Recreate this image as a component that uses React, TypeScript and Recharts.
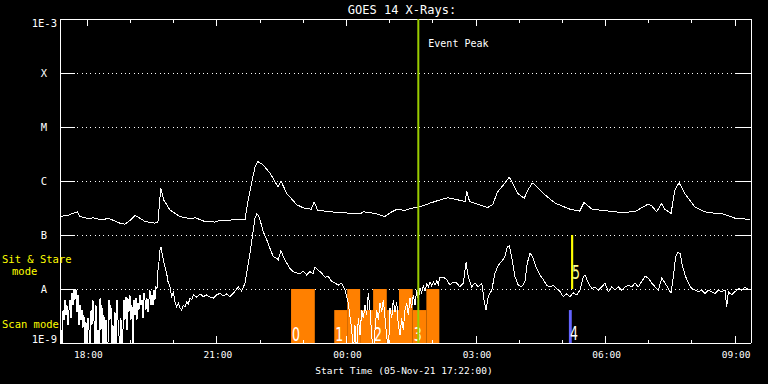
import React from 'react';
import { LineChart, Line, XAxis, YAxis, CartesianGrid, ReferenceArea, ReferenceLine } from 'recharts';

// ---- data (time = minutes after 05-Nov-21 17:22, flux = log10 W/m^2) ----
const START_MIN = 17 * 60 + 22;
const hourTicks = [38, 98, 158, 218, 278, 338, 398, 458, 518, 578, 638, 698, 758, 818, 878, 938];
const levelTicks = [-9, -8, -7, -6, -5, -4, -3];
const levelNames = ['1E-9', 'A', 'B', 'C', 'M', 'X', '1E-3'];

const longTimes = [
  0, 12, 24, 28, 40, 46, 54, 69, 83, 90,
  98, 104, 110, 118, 132, 136, 140, 144, 153, 167,
  181, 188, 201, 215, 222, 243, 257, 261, 267, 271,
  275, 282, 292, 303, 307, 315, 329, 340, 349, 353,
  358, 375, 396, 417, 421, 438, 451, 461, 469, 479,
  486, 500, 514, 528, 539, 553, 563, 565, 569, 583,
  594, 601, 608, 618, 624, 629, 636, 645, 650, 656,
  660, 674, 688, 708, 722, 728, 739, 757, 778, 799,
  810, 817, 822, 829, 836, 840, 849, 854, 860, 868,
  882, 896, 910, 919, 938, 958,
];
const longFlux = [
  -6.66, -6.63, -6.57, -6.66, -6.70, -6.68, -6.71, -6.70, -6.78, -6.80,
  -6.72, -6.64, -6.68, -6.75, -6.78, -6.76, -6.13, -6.35, -6.54, -6.66,
  -6.70, -6.68, -6.75, -6.76, -6.73, -6.72, -6.72, -6.38, -5.98, -5.74,
  -5.64, -5.70, -5.86, -6.11, -6.00, -6.23, -6.44, -6.51, -6.52, -6.39,
  -6.54, -6.57, -6.59, -6.61, -6.57, -6.60, -6.66, -6.57, -6.52, -6.55,
  -6.51, -6.48, -6.41, -6.35, -6.31, -6.35, -6.38, -6.18, -6.38, -6.44,
  -6.49, -6.44, -6.20, -6.04, -5.93, -6.04, -6.23, -6.32, -6.17, -6.04,
  -6.07, -6.26, -6.41, -6.52, -6.56, -6.40, -6.52, -6.55, -6.58, -6.57,
  -6.48, -6.43, -6.46, -6.57, -6.41, -6.52, -6.60, -6.17, -6.03, -6.23,
  -6.48, -6.57, -6.60, -6.60, -6.69, -6.71,
];

const shortTimes = [
  0, 1.4, 2.8, 4.2, 5.6, 6.9, 8.3, 9.7, 11.1, 12.5,
  13.9, 15.3, 16.7, 18.1, 19.4, 20.8, 22.2, 23.6, 25.0, 26.4,
  27.8, 29.2, 30.6, 31.9, 33.3, 34.7, 36.1, 37.5, 38.9, 40.3,
  41.7, 43.1, 44.4, 45.8, 47.2, 48.6, 50.0, 51.4, 52.8, 54.2,
  55.6, 56.9, 58.3, 59.7, 61.1, 62.5, 63.9, 65.3, 66.7, 68.1,
  69.4, 70.8, 72.2, 73.6, 75.0, 76.4, 77.8, 79.2, 80.6, 81.9,
  83.3, 84.7, 86.1, 87.5, 88.9, 90.3, 91.7, 93.1, 94.4, 95.8,
  97.2, 98.6, 100.0, 101.4, 102.8, 104.2, 105.6, 106.9, 108.3, 109.7,
  111.1, 112.5, 113.9, 115.3, 116.7, 118.1, 119.4, 120.8, 122.2, 123.6,
  125.0, 126.4, 127.8, 129.2, 130.6, 131.9, 133.3, 134.7, 136.1, 137.5,
  138.9, 140.3, 141.7,
  143.5, 148.2, 150.0, 152.8, 155.2, 157.4, 159.8, 162.1, 164.4, 166.7,
  169.1, 171.3, 173.7, 176.0, 178.2, 180.6, 183.0, 185.2, 189.9, 194.5,
  199.1, 203.8, 208.4, 213.0, 217.7, 222.3, 226.9, 231.6, 236.2, 240.8,
  247.7, 252.4, 257.0, 261.6, 264.0, 268.6, 270.9, 273.3, 275.5, 277.9,
  282.4, 287.2, 291.8, 296.3, 301.1, 303.3, 307.0, 310.2, 315.0, 319.5,
  324.1, 328.9, 333.4, 338.0, 342.7, 347.3, 351.5, 354.3, 358.9, 363.6,
  368.2, 372.8, 377.5, 382.1, 386.6, 391.4, 396.0, 400.5, 402.9, 405.3,
  407.5, 409.8, 412.2, 414.4, 416.8, 419.2, 421.4, 423.7, 426.1, 428.3,
  430.7, 433.0, 435.3, 437.6, 440.0, 442.2, 444.6, 447.0, 449.2, 451.5,
  453.9, 456.1, 458.5, 460.8, 463.1, 465.4, 467.8, 470.0, 472.4, 474.7,
  476.9, 479.3, 481.7, 483.9, 486.3, 488.6, 490.8, 493.2, 495.6, 497.8,
  500.1, 502.5, 504.7, 507.1, 509.5, 511.7, 514.0, 516.4, 518.6, 521.0,
  523.4, 525.6, 527.9,
  532.5, 537.3, 541.8, 546.4, 551.1, 555.7, 560.3, 564.1, 567.2, 571.9,
  576.6, 581.1, 585.9, 589.1, 591.8, 595.0, 599.8, 604.3, 608.9, 613.6,
  618.2, 621.4, 624.2, 627.5, 632.1, 636.7, 641.4, 646.0, 649.2, 653.0,
  656.7, 661.3, 666.9, 671.5, 676.2, 680.8, 685.3, 690.1, 694.7, 699.2,
  704.0, 708.5, 713.1, 717.9, 722.4, 727.0, 729.4, 734.0, 738.7, 743.3,
  747.9, 752.6, 757.2, 761.8, 766.5, 771.1, 775.7, 780.4, 785.0, 789.6,
  794.3, 798.8, 803.4, 808.2, 812.8, 817.3, 822.1, 826.7, 831.2, 836.0,
  840.6, 845.1, 848.9, 852.1, 855.4, 858.2, 861.4, 864.6, 868.3, 872.9,
  877.6, 882.2, 886.8, 891.5, 896.1, 900.7, 905.4, 910.0, 914.6, 919.3,
  923.9, 926.3, 928.5, 933.2, 937.8, 942.4, 947.1, 951.6, 956.2, 959.3,
];
const shortFlux = [
  -9.2, -8.76, -9.2, -8.39, -8.57, -8.20, -8.48, -8.30, -8.67, -8.39,
  -8.20, -8.54, -8.07, -8.30, -8.02, -8.20, -8.00, -8.43, -8.11, -8.67,
  -8.30, -8.57, -8.39, -8.72, -8.48, -9.2, -8.61, -9.2, -8.54, -8.76,
  -9.2, -8.39, -8.67, -8.20, -8.57, -9.2, -8.30, -9.2, -8.76, -9.2,
  -8.17, -8.76, -8.30, -9.2, -8.48, -9.2, -8.57, -9.2, -9.0, -8.20,
  -8.57, -8.30, -9.2, -8.67, -9.2, -8.43, -9.2, -8.20, -8.57, -8.85,
  -9.2, -8.54, -9.2, -8.76, -8.20, -8.57, -8.15, -8.76, -8.17, -8.43,
  -8.11, -8.57, -8.30, -9.2, -8.20, -8.48, -8.17, -8.57, -8.26, -8.39,
  -8.11, -8.30, -8.20, -8.54, -8.07, -8.20, -8.39, -8.17, -8.43, -8.20,
  -8.02, -8.30, -8.11, -8.30, -8.02, -8.20, -7.96, -8.00, -7.65, -7.50,
  -7.28, -7.22, -7.33,
  -7.46, -7.71, -7.86, -7.96, -8.14, -8.06, -8.24, -8.33, -8.26, -8.35,
  -8.39, -8.30, -8.33, -8.24, -8.28, -8.17, -8.20, -8.11, -8.15, -8.09,
  -8.14, -8.11, -8.15, -8.17, -8.11, -8.08, -8.13, -8.09, -8.14, -8.08,
  -7.96, -8.04, -7.89, -7.52, -7.33, -6.91, -6.69, -6.61, -6.63, -6.72,
  -6.94, -7.09, -7.25, -7.40, -7.43, -7.46, -7.29, -7.40, -7.52, -7.62,
  -7.68, -7.70, -7.72, -7.67, -7.74, -7.68, -7.72, -7.59, -7.65, -7.71,
  -7.78, -7.77, -7.86, -7.89, -7.93, -7.89, -8.02, -8.26, -8.51, -8.76,
  -9.2, -8.67, -9.2, -8.54, -8.85, -8.39, -8.54, -8.30, -8.48, -8.07,
  -8.39, -8.85, -9.2, -8.76, -8.39, -8.57, -8.26, -8.43, -8.20, -8.54,
  -8.87, -9.2, -8.35, -8.54, -8.20, -8.43, -8.24, -8.67, -8.85, -8.54,
  -8.76, -8.39, -8.26, -8.48, -8.17, -8.35, -8.11, -8.30, -8.02, -8.20,
  -7.98, -8.07, -7.94, -8.04, -7.91, -7.96, -7.87, -7.94, -7.87, -7.93,
  -7.85, -7.91, -7.78,
  -7.78, -7.83, -7.93, -7.87, -7.89, -7.96, -7.89, -7.51, -7.77, -7.96,
  -7.89, -7.96, -7.89, -8.20, -8.39, -8.14, -8.02, -7.71, -7.56, -7.49,
  -7.40, -7.22, -7.20, -7.40, -7.77, -7.93, -7.96, -7.86, -7.52, -7.34,
  -7.40, -7.59, -7.74, -7.83, -7.93, -7.96, -7.93, -7.99, -8.05, -8.14,
  -8.09, -8.14, -8.07, -8.11, -8.02, -7.77, -7.74, -7.89, -7.99, -7.96,
  -8.02, -7.96, -7.89, -8.05, -7.96, -8.02, -7.96, -8.02, -7.96, -7.93,
  -7.96, -7.89, -7.96, -7.86, -7.76, -7.80, -7.89, -7.96, -8.02, -7.80,
  -7.89, -7.99, -8.08, -7.77, -7.40, -7.32, -7.34, -7.56, -7.74, -7.89,
  -7.99, -8.02, -8.05, -8.02, -8.08, -8.02, -8.05, -8.08, -8.02, -8.05,
  -8.02, -8.33, -8.05, -8.11, -8.05, -7.99, -8.02, -7.97, -8.01, -8.02,
];

// scan mode segments (orange)
const scanStart = [321, 381, 399, 417, 435, 454, 471, 490, 509];
const scanEnd = [354, 399, 417, 435, 454, 471, 490, 509, 527];
const scanTop = [-8, -8.39, -8, -8.39, -8, -8.39, -8, -8.39, -8];
const scanLabel = ['0', '1', '', '', '2', '', '', '3', ''];
// other markers
const scanBlue = { start: 707, end: 711, top: -8.39, label: '4' };
const sitStare = { start: 710, end: 713, bottom: -8, top: -7, label: '5' };
const eventPeak = 497.8;

const longData = longTimes.map((t, i) => ({ t, v: longFlux[i] }));
const shortData = shortTimes.map((t, i) => ({ t, v: shortFlux[i] }));

const PLOT_W = 691;
const PLOT_H = 324;
const MONO = '"DejaVu Sans Mono", monospace';

const clock = (m: number) => {
  const total = Math.round(START_MIN + m);
  const hh = Math.floor(total / 60) % 24;
  const mm = total % 60;
  return { hh, text: `${String(hh).padStart(2, '0')}:${String(mm).padStart(2, '0')}` };
};

const XTick = (props: any) => {
  const { x, y, payload } = props;
  const c = clock(payload.value);
  const major = c.hh % 3 === 0;
  const len = major ? 7 : 3.5;
  return (
    <g>
      <line x1={x} x2={x} y1={y} y2={y - len} stroke="#fff" strokeWidth={1} shapeRendering="crispEdges" />
      <line x1={x} x2={x} y1={y - PLOT_H} y2={y - PLOT_H + len} stroke="#fff" strokeWidth={1} shapeRendering="crispEdges" />
      {major && (
        <text x={x + 1} y={y + 15} textAnchor="middle" fill="#fff" fontSize={9.5} fontFamily={MONO}>
          {c.text}
        </text>
      )}
    </g>
  );
};

const YTick = (props: any) => {
  const { x, y, payload } = props;
  const v = payload.value;
  const lab = levelNames[levelTicks.indexOf(v)];
  const isExp = v === -9 || v === -3;
  const tx = isExp ? x - 3 : x - 16;
  const ty = isExp ? (v === -3 ? y + 7.5 : y) : y + 3.6;
  return (
    <g>
      {!isExp && <line x1={x} x2={x + 15} y1={y} y2={y} stroke="#fff" shapeRendering="crispEdges" />}
      {!isExp && <line x1={x + PLOT_W - 15} x2={x + PLOT_W} y1={y} y2={y} stroke="#fff" shapeRendering="crispEdges" />}
      <text x={tx} y={ty} textAnchor={isExp ? 'end' : 'middle'} fill="#fff" fontSize={10.5} fontFamily={MONO}>
        {lab}
      </text>
    </g>
  );
};

const digitLabel = (text: string, color: string, dx: number, dyFromBottom: number) => (p: any) => {
  const vb = p.viewBox || {};
  if (!text) return null;
  return (
    <text
      x={vb.x + dx}
      y={vb.y + vb.height - dyFromBottom}
      fill={color}
      fontSize={19}
      fontFamily='"DejaVu Sans", sans-serif'
      textLength={8}
      lengthAdjust="spacingAndGlyphs"
    >
      {text}
    </text>
  );
};

const peakLabel = (p: any) => {
  const vb = p.viewBox || {};
  return (
    <text x={vb.x + 10} y={vb.y + 28} fill="#fff" fontSize={10} fontFamily={MONO}>
      Event Peak
    </text>
  );
};

export default function App() {
  return (
    <div style={{ position: 'absolute', left: 0, top: 0, width: 768, height: 384, background: '#000', overflow: 'hidden' }}>
      <LineChart width={768} height={384} margin={{ top: 19, right: 17, bottom: 0, left: 0 }}>
        <CartesianGrid horizontal vertical={false} stroke="#fff" strokeDasharray="1 3.33" shapeRendering="crispEdges" />
        <XAxis
          type="number"
          dataKey="t"
          domain={[0, 960]}
          ticks={hourTicks}
          interval={0}
          allowDataOverflow
          height={41}
          tickSize={0}
          tickMargin={0}
          tickLine={false}
          axisLine={{ stroke: '#fff', shapeRendering: 'crispEdges' }}
          tick={XTick}
        />
        <YAxis
          type="number"
          domain={[-9, -3]}
          ticks={levelTicks}
          interval={0}
          allowDataOverflow
          width={60}
          tickSize={0}
          tickMargin={0}
          tickLine={false}
          axisLine={{ stroke: '#fff', shapeRendering: 'crispEdges' }}
          tick={YTick}
        />
        {scanStart.map((s, i) => (
          <ReferenceArea
            key={`scan-${i}`}
            x1={s}
            x2={scanEnd[i]}
            y1={-9}
            y2={scanTop[i]}
            fill="#ff8000"
            fillOpacity={1}
            stroke="none"
            label={digitLabel(scanLabel[i], '#ffffff', 1, 2)}
          />
        ))}
        <ReferenceArea
          x1={scanBlue.start}
          x2={scanBlue.end}
          y1={-9}
          y2={scanBlue.top}
          fill="#6464ff"
          fillOpacity={1}
          stroke="none"
          label={digitLabel(scanBlue.label, '#ffffff', 1, 3)}
        />
        <ReferenceArea
          x1={sitStare.start}
          x2={sitStare.end}
          y1={sitStare.bottom}
          y2={sitStare.top}
          fill="#ffff00"
          fillOpacity={1}
          stroke="none"
          label={digitLabel(sitStare.label, '#ffff90', 1, 10)}
        />
        <ReferenceLine y={-3} stroke="#fff" shapeRendering="crispEdges" />
        <ReferenceLine x={960} stroke="#fff" shapeRendering="crispEdges" />
        <Line data={longData} dataKey="v" type="linear" stroke="#fff" strokeWidth={1} dot={false} isAnimationActive={false} shapeRendering="crispEdges" />
        <Line data={shortData} dataKey="v" type="linear" stroke="#fff" strokeWidth={1} dot={false} isAnimationActive={false} shapeRendering="crispEdges" />
        <ReferenceLine x={eventPeak} stroke="#9acd00" strokeWidth={2} label={peakLabel} />
      </LineChart>
      <svg width={768} height={384} style={{ position: 'absolute', left: 0, top: 0, pointerEvents: 'none' }}>
        <text x={402} y={14} textAnchor="middle" fill="#fff" fontSize={12} fontFamily={MONO}>
          GOES 14 X-Rays:
        </text>
        <text x={404} y={374} textAnchor="middle" fill="#fff" fontSize={9.5} fontFamily={MONO}>
          Start Time (05-Nov-21 17:22:00)
        </text>
        <text x={2} y={263} fill="#ffff00" fontSize={10.5} fontFamily={MONO}>
          Sit &amp; Stare
        </text>
        <text x={12} y={275} fill="#ffff00" fontSize={10.5} fontFamily={MONO}>
          mode
        </text>
        <text x={2} y={328} fill="#ffff00" fontSize={10.5} fontFamily={MONO}>
          Scan mode
        </text>
      </svg>
    </div>
  );
}
